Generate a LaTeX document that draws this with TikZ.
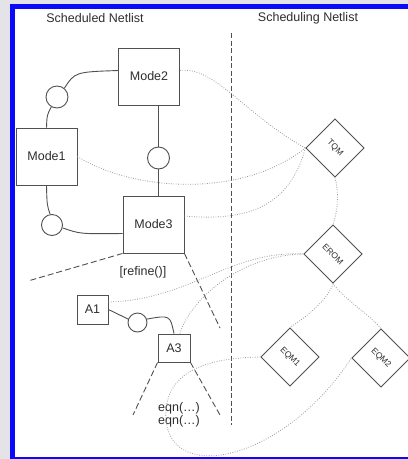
\documentclass[tikz,border=0pt]{standalone}
\usepackage{fontspec}
\setmainfont{Liberation Sans}
\usepackage{xcolor}
\usetikzlibrary{arrows.meta,shapes}
\definecolor{frameblue}{HTML}{0A0AFA}
\definecolor{pagegray}{HTML}{E4E4E8}
\definecolor{boxgray}{HTML}{505050}
\definecolor{dotgray}{HTML}{9A9A9A}
\definecolor{inkgray}{HTML}{2E2E2E}
\begin{document}
\begin{tikzpicture}[x=1pt,y=-1pt,
font=\fontsize{12.5}{13}\selectfont,
every node/.style={text=inkgray},
modebox/.style={draw=boxgray,line width=0.9pt,minimum width=61pt,minimum height=57pt,inner sep=0pt},
smallbox/.style={draw=boxgray,line width=0.9pt,minimum width=31pt,minimum height=29pt,inner sep=0pt},
port/.style={circle,draw=boxgray,line width=0.9pt,minimum size=22pt,inner sep=0pt},
tbox/.style={draw=boxgray,line width=0.9pt,rotate=-45,minimum size=41pt,inner sep=0pt,font=\fontsize{8.5}{9}\selectfont},
wire/.style={draw=boxgray,line width=0.9pt},
link/.style={draw=dotgray,line width=0.8pt,dash pattern=on 0.8pt off 1.6pt},
cut/.style={draw=boxgray,line width=0.9pt,dash pattern=on 6pt off 3pt}]
\useasboundingbox (0,0) rectangle (408,459);
\fill[pagegray] (0,0) rectangle (408,459);
\fill[frameblue] (10,4) rectangle (408,459);
\fill[white] (15,9) rectangle (408,456.5);

\node (hleft) at (95,18) {Scheduled Netlist};
\node (hright) at (308,18) {Scheduling Netlist};

\coordinate (divtop) at (231,33);
\coordinate (divbot) at (231,425);
\draw[cut,dash pattern=on 5pt off 2.5pt] (divtop) -- (divbot);

\node[modebox] (mode2) at (149,76.5) {Mode2};
\node[modebox] (mode1) at (46.5,156.5) {Mode1};
\node[modebox] (mode3) at (153.5,224.5) {Mode3};
\node[port] (p1) at (57,97) {};
\node[port] (p2) at (158.5,158) {};
\node[port,minimum size=21pt] (p3) at (52,225) {};
\node[smallbox] (a1) at (92.5,309.5) {A1};
\node[port,minimum size=19pt] (p4) at (137.5,322.5) {};
\node[smallbox,minimum width=32pt,minimum height=28pt] (a3) at (174,348) {A3};
\node (refine) at (143,272) {[refine()]};
\node[align=left] (eqns) at (179,414.5) {eqn(…)\\eqn(…)};

\draw[wire] (mode1.north) .. controls (47,115) .. (p1.240);
\draw[wire] (p1.50) .. controls (75,72) .. ([yshift=6pt]mode2.west);
\draw[wire] (p2.north) -- (p2.north |- mode2.south)
(p2.south) -- (p2.south |- mode3.north);
\draw[wire] (mode1.south) .. controls (47,205) .. (p3.100);
\draw[wire] (p3.-15) .. controls (80,234) .. ([yshift=-9pt]mode3.west);
\draw[wire] (a1.east) -- (p4.160);
\draw[wire] (p4.20) .. controls (170,315) .. (a3.north);

\coordinate (cutl) at (28,281);
\coordinate (cutr) at (220,328);
\coordinate (eqnl) at (133,415);
\coordinate (eqnr) at (220,415);
\draw[cut] (mode3.south west) -- (cutl)
(mode3.south east) -- (cutr)
(a3.south west) -- (eqnl)
(a3.south east) -- (eqnr);

\node[tbox] (tqm) at (335,148) {TQM};
\node[tbox] (erom) at (333,254) {EROM};
\node[tbox] (eqm1) at (290,357) {EQM1};
\node[tbox] (eqm2) at (381,358) {EQM2};

\draw[link] ([yshift=6pt]mode2.east) .. controls (215,66) and (245,115) .. (tqm.south west);
\draw[link] (mode1.east) .. controls (130,190) and (240,200) .. (tqm.south west);
\draw[link] ([yshift=8.5pt]mode3.east) .. controls (250,222) and (290,205) .. (tqm.south west);
\draw[link] (tqm.south east) .. controls (339,192) and (338,210) .. (erom.north west);
\draw[link] ([yshift=7.5pt]a1.east) .. controls (190,300) and (230,250) .. (erom.south west);
\draw[link] ([xshift=6pt]a3.north) .. controls (190,300) and (240,255) .. (erom.south west);
\draw[link] (erom.south east) .. controls (328,300) and (305,318) .. (eqm1.north west);
\draw[link] (erom.south east) .. controls (345,300) and (370,315) .. (eqm2.north west);
\draw[link] (eqm1.south west) .. controls (200,358) and (163,375) .. (166,420)
.. controls (172,485) and (285,460) .. (eqm2.south west);
\end{tikzpicture}
\end{document}
